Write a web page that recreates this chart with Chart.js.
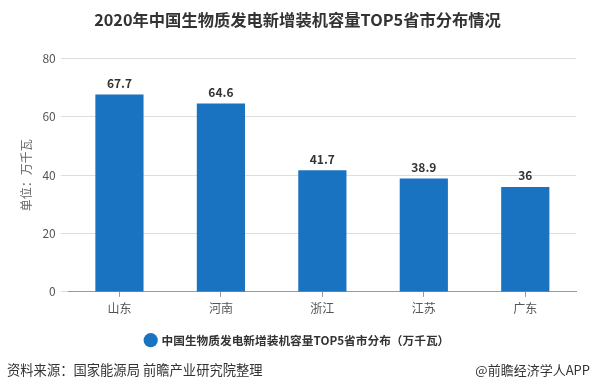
<!DOCTYPE html>
<html>
<head>
<meta charset="utf-8">
<script src="https://cdn.jsdelivr.net/npm/chart.js@4"></script>
<style>
  body { margin: 0; background: #fff; }
  .wrap { position: relative; width: 591px; height: 392px; }
  .src { position: absolute; left: 7px; top: 361px; font: 13.3px/18px "Noto Sans CJK SC", sans-serif; color: #333; }
  .app { position: absolute; right: 1px; top: 361px; font: 13px/18px "Noto Sans CJK SC", sans-serif; color: #333; }
</style>
</head>
<body>
<div class="wrap">
  <canvas id="chartTop5" width="591" height="392"></canvas>
  <div class="src">资料来源：国家能源局 前瞻产业研究院整理</div>
  <div class="app">@前瞻经济学人APP</div>
</div>
<script>
const provinces = ['山东', '河南', '浙江', '江苏', '广东'];
const capacity = [67.7, 64.6, 41.7, 38.9, 36];
const yTicks = [0, 20, 40, 60, 80];

const cjk = '"Noto Sans CJK SC", sans-serif';

// 柱顶数值
const valueLabels = {
  id: 'valueLabels',
  afterDatasetsDraw(chart) {
    const ctx = chart.ctx;
    const meta = chart.getDatasetMeta(0);
    ctx.save();
    ctx.font = 'bold 12px ' + cjk;
    ctx.fillStyle = '#333';
    ctx.textAlign = 'center';
    ctx.textBaseline = 'middle';
    meta.data.forEach((bar, i) => {
      ctx.fillText(capacity[i], bar.x, bar.y - 11);
    });
    ctx.restore();
  }
};

const data = {
  labels: provinces,
  datasets: [{
    label: '中国生物质发电新增装机容量TOP5省市分布（万千瓦）',
    data: capacity,
    backgroundColor: '#1a73c1',
    barPercentage: 0.475,
    categoryPercentage: 1
  }]
};

const config = {
  type: 'bar',
  data: data,
  options: {
    responsive: false,
    animation: false,
    layout: { padding: { left: 19, right: 15, top: 0, bottom: 36 } },
    plugins: {
      title: {
        display: true,
        text: '2020年中国生物质发电新增装机容量TOP5省市分布情况',
        color: '#333',
        font: { family: cjk, size: 16.3, weight: 'bold' },
        padding: { top: 10, bottom: 29 }
      },
      legend: {
        position: 'bottom',
        labels: {
          usePointStyle: true,
          pointStyle: 'circle',
          boxWidth: 10,
          boxHeight: 10,
          color: '#333',
          font: { family: cjk, size: 11.7, weight: 'bold' },
          padding: 15
        }
      },
      tooltip: { enabled: false }
    },
    scales: {
      x: {
        grid: { display: true, drawOnChartArea: false, offset: false, tickLength: 5, color: '#999' },
        border: { color: '#999' },
        ticks: { color: '#555', font: { family: cjk, size: 12 }, padding: 4 }
      },
      y: {
        min: 0,
        max: 80,
        afterBuildTicks: axis => { axis.ticks = yTicks.map(v => ({ value: v })); },
        grid: { color: '#ddd', tickLength: 8 },
        border: { display: false },
        ticks: { color: '#555', font: { family: cjk, size: 12 }, padding: 5 },
        title: {
          display: true,
          text: '单位：万千瓦',
          color: '#666',
          font: { family: cjk, size: 12 },
          padding: { top: 0, bottom: 4 }
        }
      }
    }
  },
  plugins: [valueLabels]
};

const myChart = new Chart(document.getElementById('chartTop5'), config);
</script>
</body>
</html>
